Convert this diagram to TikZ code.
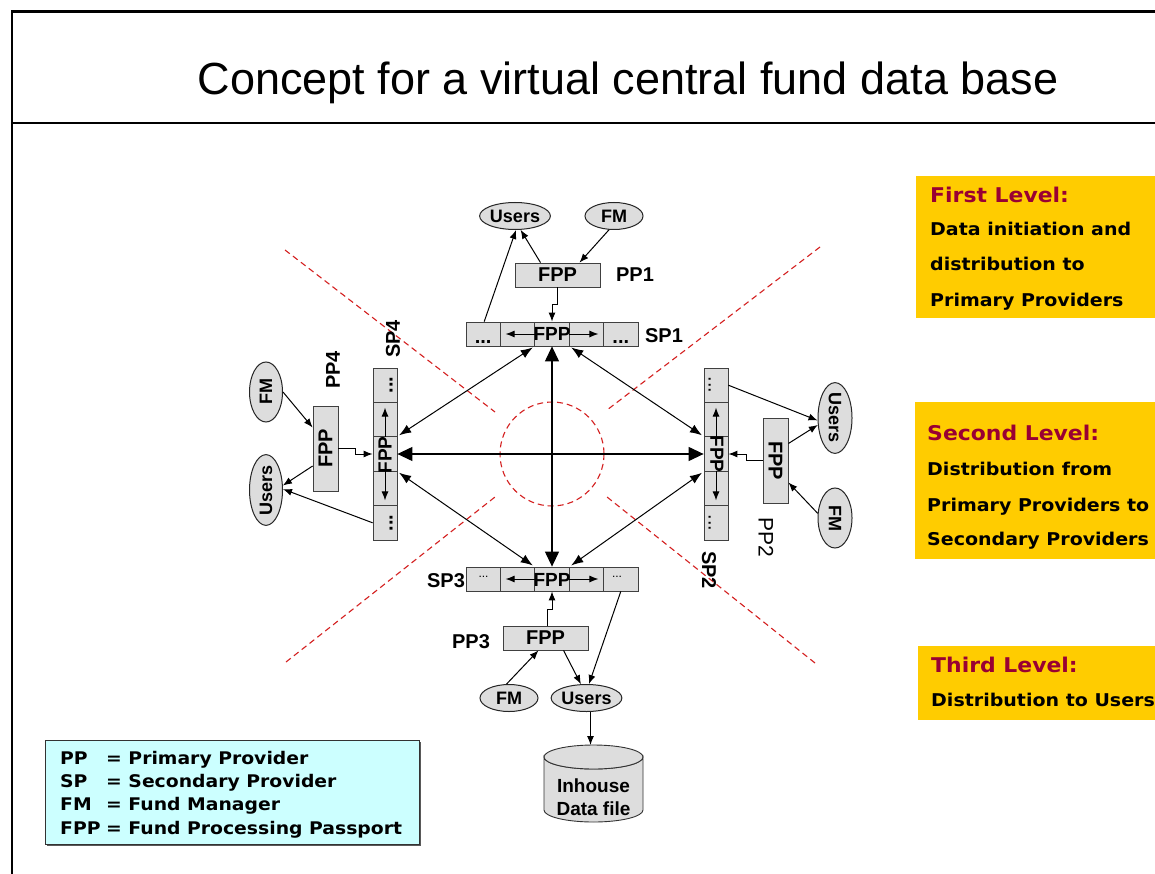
\documentclass[tikz,border=0pt]{standalone}
\usepackage{fontspec}
\setmainfont{Liberation Sans}
\newfontfamily\verd{DejaVu Sans}[FakeStretch=1.08]
\usetikzlibrary{arrows.meta,calc,shapes.geometric}

\definecolor{boxgray}{HTML}{DDDDDD}
\definecolor{gold}{HTML}{FFCC00}
\definecolor{wine}{HTML}{990033}
\definecolor{legendcyan}{HTML}{CCFFFF}
\definecolor{dashred}{HTML}{D42020}

\begin{document}
\begin{tikzpicture}[x=1pt,y=-1pt,
  cell/.style={draw=black!75, fill=boxgray, line width=0.8pt, minimum width=34.4pt, minimum height=24pt, inner sep=0pt},
  vcell/.style={cell, minimum width=24pt, minimum height=34.4pt},
  fppbox/.style={draw=black!75, fill=boxgray, line width=0.8pt, minimum width=85pt, minimum height=24pt, inner sep=0pt, font=\fontsize{20}{20}\selectfont\bfseries},
  vfppbox/.style={fppbox, minimum width=25pt, minimum height=85pt},
  actor/.style={ellipse, draw=black!85, fill=boxgray, line width=1pt, inner sep=0pt, minimum width=58pt, minimum height=27pt, font=\fontsize{18}{18}\selectfont\bfseries},
  vactor/.style={actor, minimum width=33pt, minimum height=60pt},
  lbl/.style={font=\fontsize{20}{20}\selectfont\bfseries, inner sep=0pt},
  fpptxt/.style={font=\fontsize{19}{19}\selectfont\bfseries, inner sep=0pt},
  bdots/.style={font=\fontsize{20}{20}\selectfont\bfseries, inner sep=0pt},
  sdots/.style={font=\fontsize{12}{12}\selectfont, inner sep=0pt},
  arr/.style={line width=1pt, -{Latex[length=9pt,width=7pt]}},
  darr/.style={line width=1pt, {Latex[length=12pt,width=9pt]}-{Latex[length=12pt,width=9pt]}},
  bigarr/.style={line width=1.2pt, {Triangle[length=15pt,width=14pt]}-{Triangle[length=15pt,width=14pt]}},
  sector/.style={draw=dashred, line width=1.1pt, dash pattern=on 6pt off 4pt},
  lvltitle/.style={font=\verd\bfseries\fontsize{20.3}{20.3}\selectfont, text=wine, inner sep=0pt, anchor=base west},
  lvltext/.style={font=\verd\bfseries\fontsize{17.6}{17.6}\selectfont, inner sep=0pt, anchor=base west},
  legtext/.style={font=\verd\bfseries\fontsize{17.4}{17.4}\selectfont, inner sep=0pt, anchor=base west},
]
% canvas
\fill[white] (0,0) rectangle (1155,874);
\useasboundingbox (0,0) rectangle (1155,874);

% frame and title
\draw[line width=3pt] (11,12) -- (1155,12);
\draw[line width=2.5pt] (12,11) -- (12,874);
\draw[line width=1.5pt] (12,123) -- (1155,123);
\node[font=\fontsize{45}{45}\selectfont, anchor=base, inner sep=0pt] (title) at (628,95) {Concept for a virtual central fund data base};

% sector lines and centre
\draw[sector] (285,250) -- (495,412);
\draw[sector] (820,247) -- (607,410);
\draw[sector] (286,662) -- (495,497);
\draw[sector] (815,663) -- (607,497);
\draw[sector] (552,454) circle [radius=52];

% secondary provider bars
\foreach \n/\x in {a/483.2,b/517.6,c/552,d/586.4,e/620.8}{
  \node[cell] (sp1\n) at (\x,334) {};
  \node[cell] (sp3\n) at (\x,579) {};
}
\foreach \n/\y in {a/385.2,b/419.6,c/454,d/488.4,e/522.8}{
  \node[vcell] (sp4\n) at (385,\y) {};
  \node[vcell] (sp2\n) at (716,\y) {};
}
% cell contents
\node[fpptxt] (sp1t) at (552,334) {FPP};
\node[fpptxt] (sp3t) at (552,580) {FPP};
\node[fpptxt, rotate=90] (sp4t) at (385,455) {FPP};
\node[fpptxt, rotate=-90] (sp2t) at (717,454) {FPP};
\node[bdots, anchor=base] (sp1da) at (483.2,343) {...};
\node[bdots, anchor=base] (sp1de) at (620.8,343) {...};
\node[sdots, anchor=base] (sp3da) at (483.5,577) {...};
\node[sdots, anchor=base] (sp3de) at (617,577) {...};
\node[bdots, anchor=base, rotate=90] (sp4da) at (392.5,385.2) {...};
\node[bdots, anchor=base, rotate=90] (sp4de) at (392.5,522.8) {...};
\node[font=\fontsize{20}{20}\selectfont, anchor=base, rotate=-90, inner sep=0pt] (sp2da) at (708.5,385.2) {...};
\node[font=\fontsize{20}{20}\selectfont, anchor=base, rotate=-90, inner sep=0pt] (sp2de) at (708.5,522.8) {...};

% passing arrows inside the bars
\foreach \s in {sp1,sp3,sp4,sp2}{
  \draw[arr] ($(\s c)!0.5!(\s b)$) -- ($(\s c)!1.35!(\s b)$);
  \draw[arr] ($(\s c)!0.5!(\s d)$) -- ($(\s c)!1.35!(\s d)$);
}

% bar labels
\node[lbl] (sp1l) at (664,336) {SP1};
\node[lbl] (sp3l) at (446,581) {SP3};
\node[lbl, rotate=90] (sp4l) at (393,339) {SP4};
\node[lbl, rotate=-90] (sp2l) at (709,570) {SP2};

% exchange between secondary providers
\draw[bigarr] (sp1c.south) -- (sp3c.north);
\draw[bigarr] (sp4c.east) -- (sp2c.west);
\draw[darr, shorten <=2pt, shorten >=2pt] (sp1c.south west) -- (sp4c.north east);
\draw[darr, shorten <=2pt, shorten >=2pt] (sp1c.south east) -- (sp2c.north west);
\draw[darr, shorten <=2pt, shorten >=2pt] (sp4c.south east) -- (sp3c.north west);
\draw[darr, shorten <=2pt, shorten >=2pt] (sp2c.south west) -- (sp3c.north east);

% primary provider 1 (top)
\node[fppbox] (pp1) at (557.5,275) {FPP};
\node[lbl] (pp1l) at (635,275) {PP1};
\node[actor] (us1) at (515,216) {Users};
\node[actor] (fm1) at (614,216) {FM};
\draw[arr] (fm1.250) -- ([xshift=22pt]pp1.north);
\draw[arr] ([xshift=-17pt]pp1.north) -- (us1.-68);
\draw[arr] ([xshift=1pt]sp1a.north) -- (us1.-86);
\draw[arr] (pp1.south) -- ++(0,17) -| (sp1c.north);

% primary provider 3 (bottom)
\node[fppbox] (pp3) at (545.5,638) {FPP};
\node[lbl] (pp3l) at (471,642) {PP3};
\node[actor] (fm3) at (509,698) {FM};
\node[actor] (us3) at (586.5,698) {Users};
\draw[arr] (fm3.100) -- ([xshift=-7pt]pp3.south);
\draw[arr] ([xshift=18pt]pp3.south) -- (us3.112);
\draw[arr] (sp3e.south) -- (us3.80);
\draw[arr] ([xshift=1.5pt]pp3.north) -- ++(0,-16) -| (sp3c.south);

% in-house data file
\coordinate (cyltop) at (590.5,745);
\filldraw[draw=black!80, fill=boxgray, line width=0.9pt] (544,757) -- (544,810) arc[start angle=180, end angle=0, x radius=49.5, y radius=12] -- (643,757) arc[start angle=0, end angle=180, x radius=49.5, y radius=12] -- cycle;
\filldraw[draw=black!80, fill=boxgray, line width=0.9pt] (593.5,757) ellipse [x radius=49.5, y radius=12];
\node[font=\fontsize{19}{23}\selectfont\bfseries, align=center, inner sep=0pt] (cyl) at (593.5,797) {Inhouse\\Data file};
\draw[arr] ([xshift=4pt]us3.south) -- (cyltop);

% primary provider 4 (left)
\node[vfppbox] (pp4) at (325.5,448.5) {\rotatebox{90}{FPP}};
\node[lbl, rotate=90] (pp4l) at (333,370) {PP4};
\node[vactor] (fm4) at (266,392) {\rotatebox{90}{FM}};
\node[vactor] (us4) at (266,490) {\rotatebox{90}{Users}};
\draw[arr] (fm4.east) -- ([yshift=21pt]pp4.west);
\draw[arr] ([yshift=-17.5pt]pp4.west) -- (us4.15);
\draw[arr] (sp4e.west) -- (us4.3);
\draw[arr] (pp4.east) -- ++(17,0) |- (sp4c.west);

% primary provider 2 (right)
\node[vfppbox] (pp2) at (775.5,460.5) {\rotatebox{-90}{FPP}};
\node[font=\fontsize{21}{21}\selectfont, rotate=-90, inner sep=0pt] (pp2l) at (766,537) {PP2};
\node[vactor, minimum width=34pt] (us2) at (835,418) {\rotatebox{-90}{Users}};
\node[vactor, minimum width=34pt] (fm2) at (835,518) {\rotatebox{-90}{FM}};
\draw[arr] (sp2a.east) -- (us2.188);
\draw[arr] ([yshift=17pt]pp2.east) -- (us2.202);
\draw[arr] (fm2.165) -- ([yshift=-22pt]pp2.east);
\draw[arr] (pp2.west) -- ++(-16,0) |- (sp2c.east);

% legend
\fill[black!65] (47,742) rectangle (421,846);
\filldraw[fill=legendcyan, draw=black!80, line width=1pt] (45,740) rectangle (419,844);
\node[legtext] (lg1) at (60,764) {\makebox[46pt][l]{PP}= Primary Provider};
\node[legtext] (lg2) at (60,787) {\makebox[46pt][l]{SP}= Secondary Provider};
\node[legtext] (lg3) at (60,810) {\makebox[46pt][l]{FM}= Fund Manager};
\node[legtext] (lg4) at (60,834) {\makebox[46pt][l]{FPP}= Fund Processing Passport};

% distribution levels
\fill[gold] (916,176) rectangle (1155,318);
\node[lvltitle] (l1t) at (930,203) {First Level:};
\node[lvltext] (l1a) at (930,236) {Data initiation and};
\node[lvltext] (l1b) at (930,271) {distribution to};
\node[lvltext] (l1c) at (930,306) {Primary Providers};

\fill[gold] (915,402) rectangle (1155,559);
\node[lvltitle] (l2t) at (927,440) {Second Level:};
\node[lvltext] (l2a) at (927,475) {Distribution from};
\node[lvltext] (l2b) at (927,511) {Primary Providers to};
\node[lvltext] (l2c) at (927,545) {Secondary Providers};

\fill[gold] (918,646) rectangle (1155,720);
\node[lvltitle] (l3t) at (931,672) {Third Level:};
\node[lvltext] (l3a) at (931,706) {Distribution to Users};
\end{tikzpicture}
\end{document}
